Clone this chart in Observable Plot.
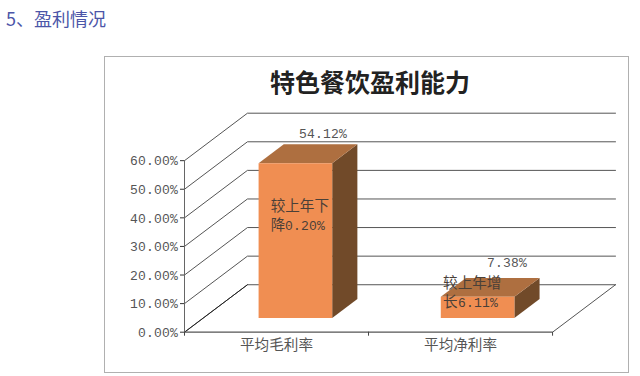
<!DOCTYPE html>
<html lang="zh">
<head>
<meta charset="utf-8">
<script src="https://cdn.jsdelivr.net/npm/d3@7"></script>
<script src="https://cdn.jsdelivr.net/npm/@observablehq/plot@0.6"></script>
<style>
@font-face{font-family:"NumMono";src:local("Liberation Mono");size-adjust:86%;unicode-range:U+20-7E;}
html,body{margin:0;padding:0;background:#fff;overflow:hidden;}
#page{position:relative;width:640px;height:376px;}
#heading{position:absolute;left:6px;top:6px;font:18px/24px "Noto Sans CJK SC",sans-serif;color:#4b55a8;}
#box{position:absolute;left:104px;top:56px;width:523px;height:315px;border:1px solid #b0b0b0;box-sizing:content-box;}
#title{position:absolute;left:104px;width:532px;top:63px;text-align:center;font:bold 25px/36px "Noto Sans CJK SC",sans-serif;color:#222;}
#chart{position:absolute;left:0;top:0;}
</style>
</head>
<body>
<div id="page">
  <div id="box"></div>
  <div id="heading">5、盈利情况</div>
  <div id="title">特色餐饮盈利能力</div>
  <div id="chart"></div>
</div>
<script>
const categories = ["平均毛利率", "平均净利率"];
const values = [54.12, 7.38];
const valueLabels = ["54.12%", "7.38%"];
const notes = ["较上年下\n降0.20%", "较上年增\n长6.11%"];
const yTicks = [0, 10, 20, 30, 40, 50, 60];

// Oblique projection: depth z (0..1) shifts a point along x and y
const depthX = 0.342, depthY = 16.6, yMax = 60;
const px = (cat, z) => cat + z * depthX;
const py = (val, z) => val + z * depthY;
const P = (cat, val, z) => ({x: px(cat, z), y: py(val, z)});

const grid = yTicks.map(v => [P(0, v, 0), P(0, v, 1), P(categories.length, v, 1)]);
const floorRight = [P(categories.length, 0, 0), P(categories.length, 0, 1)];

const z0 = 0.3, z1 = 0.7, half = 0.2;
const barCentres = [0.5, 1.49];
const colors = {front: "#f08e52", top: "#ae6f40", side: "#714a29"};
const faces = values.flatMap((v, i) => {
  const a = barCentres[i] - half, b = barCentres[i] + half;
  return [
    {fill: colors.side, pts: [P(b, 0, z0), P(b, 0, z1), P(b, v, z1), P(b, v, z0)]},
    {fill: colors.top, pts: [P(a, v, z0), P(b, v, z0), P(b, v, z1), P(a, v, z1)]},
    {fill: colors.front, pts: [P(a, 0, z0), P(b, 0, z0), P(b, v, z0), P(a, v, z0)]}
  ];
});

const valueAnchor = [{x: 0.752, y: 69.5}, {x: 1.75, y: 24.5}];
const noteAnchor = [{x: 0.468, y: 41.3}, {x: 1.405, y: 14.2}];

const font = '"NumMono","Noto Sans CJK SC",sans-serif';
const tickFmt = d => d.toFixed(2) + "%";

const plot = Plot.plot({
  width: 640,
  height: 376,
  marginLeft: 184,
  marginRight: 25,
  marginTop: 112.7,
  marginBottom: 44.3,
  style: {fontFamily: font, fontSize: "14.6px", background: "transparent"},
  x: {type: "linear", domain: [0, categories.length + depthX], axis: null},
  y: {type: "linear", domain: [0, yMax + depthY], axis: null},
  marks: [
    ...grid.map(g => Plot.line(g, {x: "x", y: "y", stroke: "#555", strokeWidth: 1})),
    Plot.line(floorRight, {x: "x", y: "y", stroke: "#555", strokeWidth: 1}),
    Plot.line([P(0, 0, 0), P(0, 0, 1)], {x: "x", y: "y", stroke: "#222", strokeWidth: 1}),
    Plot.ruleX([0], {y1: 0, y2: yMax, stroke: "#666"}),
    Plot.ruleY([0], {x1: 0, x2: categories.length, stroke: "#555", strokeWidth: 1.2}),
    ...faces.map(f => Plot.line(f.pts, {x: "x", y: "y", fill: f.fill, stroke: "none"})),
    Plot.axisY({ticks: yTicks, tickFormat: tickFmt, tickSize: 4, tickPadding: 3, stroke: "#333", color: "#555", label: null}),
    Plot.axisX({ticks: d3.range(categories.length + 1), tickFormat: () => "", tickSize: 4, stroke: "#444", label: null}),
    Plot.axisX({ticks: categories.map((_, i) => i + 0.5), tickFormat: d => categories[d - 0.5], tickSize: 0, tickPadding: 7, color: "#555", label: null}),
    Plot.text(valueAnchor, {x: "x", y: "y", text: (d, i) => valueLabels[i], fill: "#555", textAnchor: "middle"}),
    Plot.text(noteAnchor, {x: "x", y: "y", text: (d, i) => notes[i], fill: "#4a4038", textAnchor: "start", lineHeight: 1.3})
  ]
});
document.getElementById("chart").appendChild(plot);
</script>
</body>
</html>
